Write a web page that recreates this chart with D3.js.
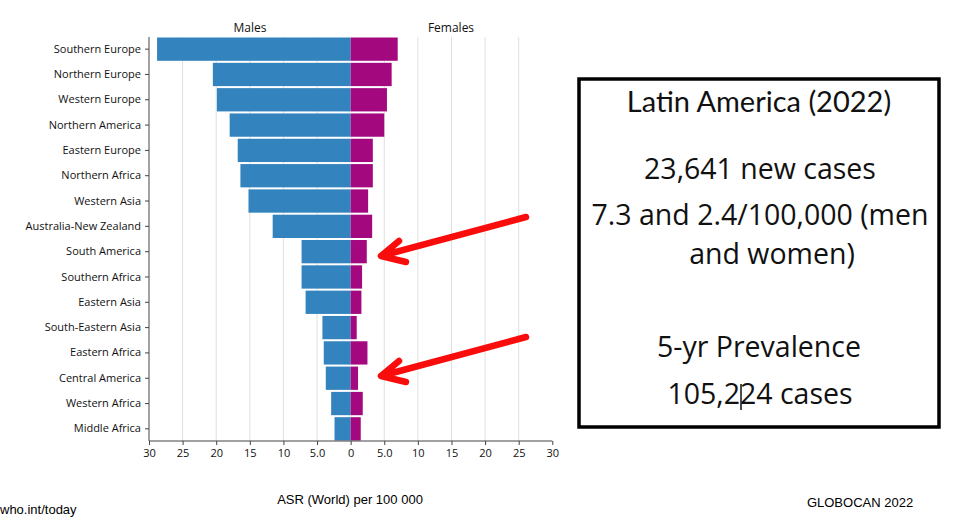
<!DOCTYPE html>
<html>
<head>
<meta charset="utf-8">
<script src="https://cdn.jsdelivr.net/npm/d3@7"></script>
<style>
  body { margin: 0; background: #fff; }
  svg { display: block; }
  svg text { font-family: "Open Sans", "Noto Sans", sans-serif; }
</style>
</head>
<body>
<div id="chart"></div>
<script>
const regions = ["Southern Europe", "Northern Europe", "Western Europe", "Northern America",
  "Eastern Europe", "Northern Africa", "Western Asia", "Australia-New Zealand",
  "South America", "Southern Africa", "Eastern Asia", "South-Eastern Asia",
  "Eastern Africa", "Central America", "Western Africa", "Middle Africa"];
const males = [28.8, 20.5, 19.9, 18.0, 16.8, 16.4, 15.2, 11.6, 7.3, 7.3, 6.7, 4.2, 4.0, 3.7, 2.9, 2.4];
const females = [7.0, 6.1, 5.4, 5.0, 3.3, 3.3, 2.6, 3.2, 2.4, 1.7, 1.6, 0.9, 2.5, 1.1, 1.8, 1.5];
const ticks = [-30, -25, -20, -15, -10, -5, 0, 5, 10, 15, 20, 25, 30];
const boxLines = ["23,641 new cases", "7.3 and 2.4/100,000 (men", "and women)", "5-yr Prevalence", "105,224 cases"];

const width = 960, height = 524;
const margin = { top: 37, left: 149, right: 408, bottom: 85 };

const svg = d3.select("#chart").append("svg")
  .attr("width", width)
  .attr("height", height);

// x: males to the left (negative), females right
const x = d3.scaleLinear()
  .domain([-30, 30])
  .range([margin.left, 552.3]);

const y = d3.scaleBand()
  .domain(regions)
  .range([margin.top, height - margin.bottom + 2])
  .paddingInner(0.08)
  .paddingOuter(0.02);

const bottomY = height - margin.bottom + 2;

// grid
svg.append("g")
  .selectAll("line")
  .data(ticks.filter(d => d !== 0 && Math.abs(d) !== 30))
  .join("line")
  .attr("x1", d => x(d)).attr("x2", d => x(d))
  .attr("y1", margin.top).attr("y2", bottomY)
  .attr("stroke", "#e0e0e0")
  .attr("stroke-width", 1);

// bars
const rows = regions.map((r, i) => ({ region: r, m: males[i], f: females[i] }));

svg.append("g").selectAll("rect")
  .data(rows)
  .join("rect")
  .attr("x", d => x(-d.m))
  .attr("y", d => y(d.region))
  .attr("width", d => x(0) - x(-d.m))
  .attr("height", y.bandwidth())
  .attr("fill", "#3283be");

svg.append("g").selectAll("rect")
  .data(rows)
  .join("rect")
  .attr("x", x(0))
  .attr("y", d => y(d.region))
  .attr("width", d => x(d.f) - x(0))
  .attr("height", y.bandwidth())
  .attr("fill", "#a3087f");

// axes
const xAxis = svg.append("g")
  .attr("transform", `translate(0,${bottomY})`)
  .call(d3.axisBottom(x).tickValues(ticks).tickSize(4)
    .tickFormat(d => Math.abs(d) === 5 ? "5.0" : Math.abs(d)));
xAxis.selectAll("text").style("font-size", "11px").attr("fill", "#111").attr("dy", "0.85em");
xAxis.select(".domain").attr("stroke", "#444").attr("d", `M${x(-30)},0H${x(30)}`);
xAxis.selectAll(".tick line").attr("stroke", "#444");

const yAxis = svg.append("g")
  .attr("transform", `translate(${margin.left},0)`)
  .call(d3.axisLeft(y).tickSize(4).tickPadding(4));
yAxis.selectAll("text").style("font-size", "11px").attr("fill", "#111");
yAxis.select(".domain").attr("stroke", "#444").attr("d", `M0,${margin.top}V${bottomY}`);
yAxis.selectAll(".tick line").attr("stroke", "#444");

// headers
svg.append("text").attr("x", 250).attr("y", 32).attr("text-anchor", "middle")
  .style("font-size", "12px").attr("fill", "#111").text("Males");
svg.append("text").attr("x", 451).attr("y", 32).attr("text-anchor", "middle")
  .style("font-size", "12px").attr("fill", "#111").text("Females");

// footer
const narrow = '"Liberation Sans Narrow", "Liberation Sans", sans-serif';
svg.append("text").attr("x", 350).attr("y", 504).attr("text-anchor", "middle")
  .style("font-family", narrow).style("font-size", "13px").text("ASR (World) per 100 000");
svg.append("text").attr("x", 860).attr("y", 507).attr("text-anchor", "middle")
  .style("font-family", narrow).style("font-size", "13px").text("GLOBOCAN 2022");
svg.append("text").attr("x", 0).attr("y", 514)
  .style("font-family", narrow).style("font-size", "13px").text("who.int/today");

// arrows
const arrow = (tail, tip, a1, a2) => {
  svg.append("path")
    .attr("d", `M${tail[0]},${tail[1]}L${tip[0]},${tip[1]}M${a1[0]},${a1[1]}L${tip[0]},${tip[1]}L${a2[0]},${a2[1]}`)
    .attr("fill", "none")
    .attr("stroke", "#f90c0c")
    .attr("stroke-width", 6.5)
    .attr("stroke-linecap", "round")
    .attr("stroke-linejoin", "round");
};
arrow([526, 217], [381, 256], [399, 241], [406, 262]);
arrow([526, 337], [381, 376], [399, 361], [406, 382]);

// text box
svg.append("rect")
  .attr("x", 579).attr("y", 79).attr("width", 360).attr("height", 348)
  .attr("fill", "none").attr("stroke", "#000").attr("stroke-width", 3.5);

svg.append("text").attr("x", 759).attr("y", 112).attr("text-anchor", "middle")
  .style("font-family", "Lato, sans-serif").style("font-size", "29px").attr("fill", "#111")
  .text("Latin America (2022)");

const lineX = [760, 760, 772, 759, 760];
const lineY = [179, 225, 264, 357, 404];
svg.append("g").selectAll("text")
  .data(boxLines)
  .join("text")
  .attr("x", (d, i) => lineX[i])
  .attr("y", (d, i) => lineY[i])
  .attr("text-anchor", "middle")
  .style("font-size", "28.5px")
  .attr("fill", "#111")
  .text(d => d);

// text cursor in the last line
svg.append("line")
  .attr("x1", 741).attr("x2", 741).attr("y1", 384).attr("y2", 410)
  .attr("stroke", "#111").attr("stroke-width", 1.5);
</script>
</body>
</html>
